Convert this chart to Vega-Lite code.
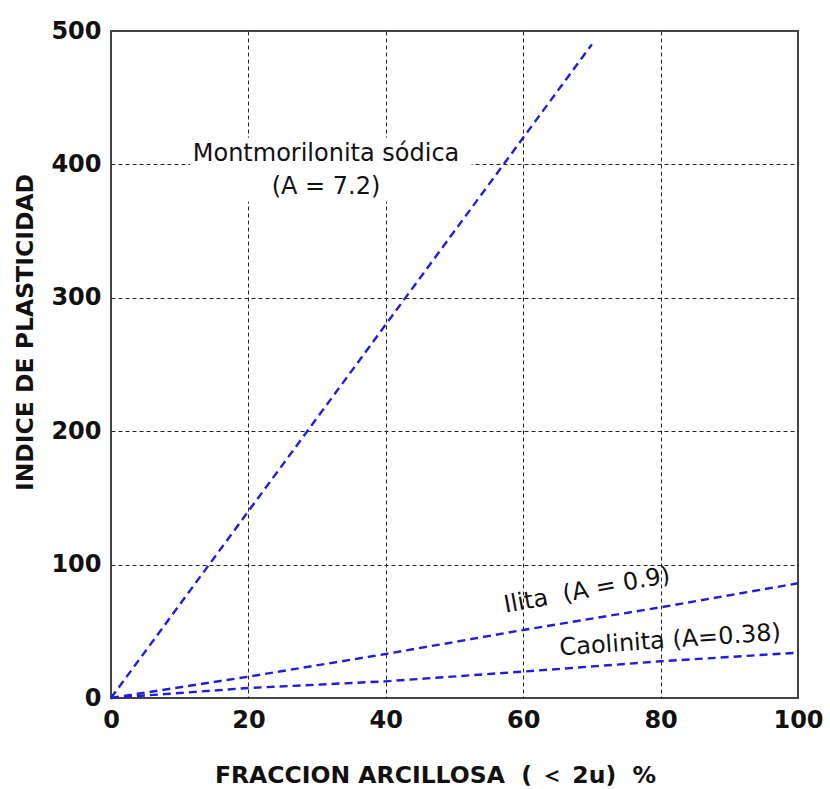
{
  "$schema": "https://vega.github.io/schema/vega-lite/v6.json",
  "width": 687,
  "height": 667,
  "autosize": {"type": "none"},
  "padding": {"left": 111, "top": 31, "right": 32, "bottom": 91},
  "background": "white",
  "config": {
    "view": {"stroke": "#444444", "strokeWidth": 2},
    "font": "DejaVu Sans",
    "axis": {
      "domain": false,
      "ticks": false,
      "labelFlush": false,
      "labelFont": "DejaVu Sans",
      "labelFontWeight": "bold",
      "labelFontSize": 24,
      "labelColor": "#111111",
      "titleFont": "DejaVu Sans",
      "titleFontWeight": "bold",
      "titleFontSize": 23.5,
      "titleColor": "#111111",
      "gridColor": "#222222",
      "gridDash": [4, 3],
      "gridWidth": 1
    }
  },
  "datasets": {
    "lines": [
      {"serie": "Montmorilonita", "x": 0, "y": 0},
      {"serie": "Montmorilonita", "x": 70, "y": 490},
      {"serie": "Ilita", "x": 0, "y": 0},
      {"serie": "Ilita", "x": 20, "y": 16},
      {"serie": "Ilita", "x": 40, "y": 33},
      {"serie": "Ilita", "x": 60, "y": 51},
      {"serie": "Ilita", "x": 80, "y": 68},
      {"serie": "Ilita", "x": 100, "y": 86},
      {"serie": "Caolinita", "x": 0, "y": 0},
      {"serie": "Caolinita", "x": 20, "y": 7.5},
      {"serie": "Caolinita", "x": 40, "y": 12.5},
      {"serie": "Caolinita", "x": 60, "y": 19.8},
      {"serie": "Caolinita", "x": 80, "y": 27.5},
      {"serie": "Caolinita", "x": 100, "y": 34}
    ],
    "labels": [
      {"texto": "Montmorilonita sódica", "x": 31.3, "y": 408, "angulo": 0},
      {"texto": "(A = 7.2)", "x": 31.3, "y": 383, "angulo": 0},
      {"texto": "Ilita\u00a0\u00a0(A = 0.9)", "x": 69.3, "y": 80.5, "angulo": -10.5},
      {"texto": "Caolinita (A=0.38)", "x": 81.4, "y": 43, "angulo": -4}
    ],
    "fondos": [
      {"x": 11.5, "x2": 52.5, "y": 372, "y2": 420}
    ]
  },
  "layer": [
    {
      "data": {"name": "fondos"},
      "mark": {"type": "rect", "color": "white"},
      "encoding": {
        "x": {
          "field": "x", "type": "quantitative",
          "scale": {"domain": [0, 100], "nice": false},
          "axis": {
            "values": [0, 20, 40, 60, 80, 100],
            "labelPadding": 10,
            "title": "FRACCION ARCILLOSA\u00a0\u00a0(\u00a0＜\u00a02u)\u00a0\u00a0%",
            "titleX": 324,
            "titleY": 77,
            "titleBaseline": "middle",
            "gridOpacity": {"condition": {"test": "datum.value == 0 || datum.value == 100", "value": 0}, "value": 1}
          }
        },
        "x2": {"field": "x2"},
        "y": {
          "field": "y", "type": "quantitative",
          "scale": {"domain": [0, 500], "nice": false},
          "axis": {
            "values": [0, 100, 200, 300, 400, 500],
            "labelPadding": 10,
            "title": "INDICE DE PLASTICIDAD",
            "titleX": -86,
            "titleY": 301,
            "titleBaseline": "middle",
            "gridOpacity": {"condition": {"test": "datum.value == 0 || datum.value == 500", "value": 0}, "value": 1}
          }
        },
        "y2": {"field": "y2"}
      }
    },
    {
      "data": {"name": "lines"},
      "mark": {"type": "line", "color": "#1e1ee0", "strokeWidth": 2.4, "strokeDash": [8, 5]},
      "encoding": {
        "x": {"field": "x", "type": "quantitative"},
        "y": {"field": "y", "type": "quantitative"},
        "detail": {"field": "serie"}
      }
    },
    {
      "data": {"name": "labels"},
      "mark": {"type": "text", "font": "DejaVu Sans", "fontSize": 24, "color": "#111111", "align": "center", "baseline": "middle"},
      "encoding": {
        "x": {"field": "x", "type": "quantitative"},
        "y": {"field": "y", "type": "quantitative"},
        "text": {"field": "texto"},
        "angle": {"field": "angulo", "type": "quantitative", "scale": null}
      }
    }
  ]
}
